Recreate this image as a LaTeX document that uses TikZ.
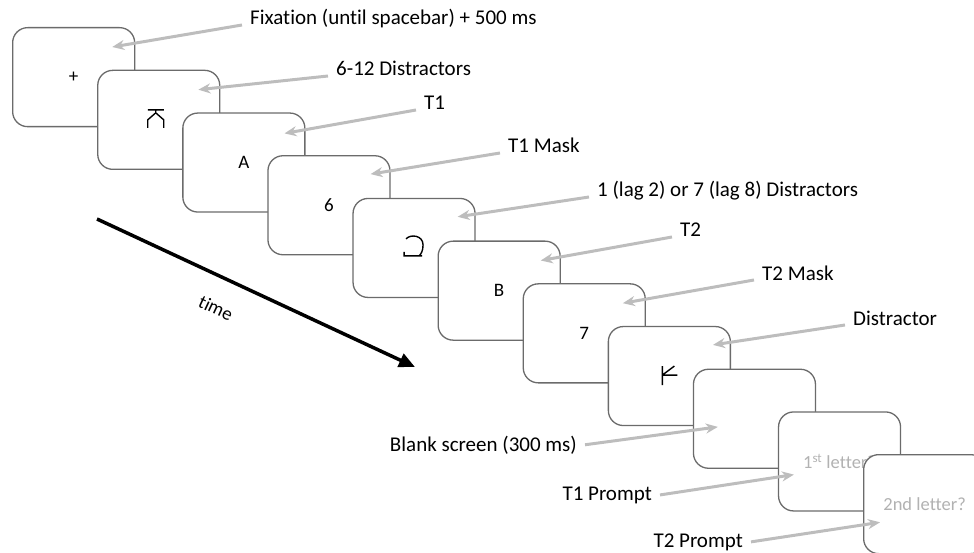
\documentclass[tikz,border=0pt]{standalone}
\usepackage{fontspec}
\setmainfont{Carlito}[Ligatures=NoCommon]
\usetikzlibrary{arrows.meta, calc, positioning}

\begin{document}
\begin{tikzpicture}[
    x=1pt, y=-1pt,
    screen/.style={rectangle, rounded corners=15pt, minimum width=122pt, minimum height=99pt, inner sep=0pt, draw=black!58, line width=1.3pt, fill=white, anchor=north west, font=\fontsize{19}{22}\selectfont},
    prompt/.style={screen, text=black!30, font=\fontsize{18.5}{21}\selectfont},
    glyph/.style={line width=1.4pt},
    lbl/.style={font=\fontsize{21}{25}\selectfont, inner xsep=8pt, inner ysep=0pt},
    arrow/.style={draw=black!26, line width=3pt, -{Stealth[length=12pt,width=10pt]}},
    timeline/.style={line width=3.5pt, -{Triangle[length=16pt,width=14pt]}}
]
\useasboundingbox (0,0) rectangle (974,553);

% screens, back to front
\node (s1) [screen] at (12,27) {+};
\node (s2) [screen] at (97.1,69.7) {};
\draw [glyph, shift={(s2.center)}] (-11,-10) -- (5,-10) (-3,-10) -- (-3,-7) (-11,8) -- (-11,0) -- (-3,-7) -- (5,0) -- (5,8);
\node (s3) [screen] at (182.2,112.4) {A};
\node (s4) [screen] at (267.3,155.1) {6};
\node (s5) [screen] at (352.4,197.8) {};
\draw [glyph, shift={(s5.center)}] (-8,-9) .. controls (-4,-14) and (9,-13) .. (9,-3) .. controls (9,3) and (7,6) .. (5,8) (-10,4) -- (-10,8) -- (8,8);
\node (s6) [screen] at (437.5,240.5) {B};
\node (s7) [screen] at (522.6,283.2) {7};
\node (s8) [screen] at (607.7,325.9) {};
\draw [glyph, shift={(s8.center)}] (-7,-10) -- (-7,9) (-7,-1) -- (8,-1) (-7,-1) -- (5,-10);
\node (s9) [screen] at (692.8,368.6) {};
\node (s10) [prompt] at (777.9,411.3) {1\textsuperscript{st} letter?};
\node (s11) [prompt] at (863,454) {2nd letter?};

% labels
\node (fix) [lbl, anchor=base west] at (242,25) {Fixation (until spacebar) + 500 ms};
\node (dis) [lbl, anchor=base west] at (328,76) {6-12 Distractors};
\node (tone) [lbl, anchor=base west] at (416,110) {T1};
\node (tonem) [lbl, anchor=base west] at (500,153) {T1 Mask};
\node (lag) [lbl, anchor=base west] at (589,197) {1 (lag 2) or 7 (lag 8) Distractors};
\node (ttwo) [lbl, anchor=base west] at (672,237) {T2};
\node (ttwom) [lbl, anchor=base west] at (754,280) {T2 Mask};
\node (dist) [lbl, anchor=base west] at (845,325) {Distractor};
\node (blank) [lbl, anchor=base east] at (585,451) {Blank screen (300 ms)};
\node (tonep) [lbl, anchor=base east] at (660,500) {T1 Prompt};
\node (ttwop) [lbl, anchor=base east] at (751,547) {T2 Prompt};

% arrow tips inside the screens
\coordinate (p1) at ($(s1.north east)+(-23,20)$);
\coordinate (p2) at ($(s2.north east)+(-22,20)$);
\coordinate (p3) at ($(s3.north east)+(-21,21)$);
\coordinate (p4) at ($(s4.north east)+(-20,19)$);
\coordinate (p5) at ($(s5.north east)+(-18,19)$);
\coordinate (p6) at ($(s6.north east)+(-20,20)$);
\coordinate (p7) at ($(s7.north east)+(-23,20)$);
\coordinate (p8) at ($(s8.north east)+(-18,19)$);
\coordinate (p9) at ($(s9.south west)+(25,-42)$);
\coordinate (p10) at ($(s10.south west)+(16,-37)$);
\coordinate (p11) at ($(s11.south west)+(17,-32)$);

\draw [arrow] (fix.base west) -- (p1);
\draw [arrow] (dis.base west) -- (p2);
\draw [arrow] (tone.base west) -- (p3);
\draw [arrow] (tonem.base west) -- (p4);
\draw [arrow] (lag.base west) -- (p5);
\draw [arrow] (ttwo.base west) -- (p6);
\draw [arrow] (ttwom.base west) -- (p7);
\draw [arrow] (dist.base west) -- (p8);
\draw [arrow] (blank.east) -- (p9);
\draw [arrow] (tonep.east) -- (p10);
\draw [arrow] (ttwop.east) -- (p11);

% time axis
\coordinate (tstart) at (97,219);
\coordinate (tend) at (415,367);
\draw [timeline] (tstart) -- (tend);
\node (time) [rotate=-25, font=\fontsize{19}{22}\selectfont] at (216,308) {time};

\end{tikzpicture}
\end{document}
